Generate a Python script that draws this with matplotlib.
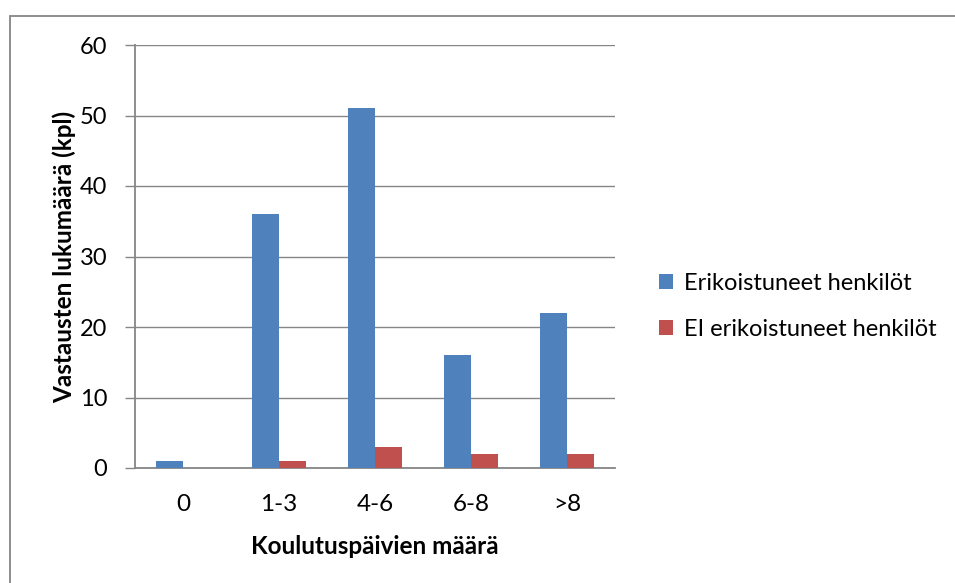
import matplotlib.pyplot as plt
import numpy as np
from matplotlib.patches import Rectangle

plt.rcParams['font.family'] = ['Lato', 'DejaVu Sans']

categories = ["0", "1-3", "4-6", "6-8", ">8"]
erikoistuneet = [1, 36, 51, 16, 22]
ei_erikoistuneet = [0, 1, 3, 2, 2]

blue = "#4F81BD"
red = "#C0504D"
grid = "#868686"

fig = plt.figure(figsize=(9.55, 5.83), dpi=100)
ax = fig.add_axes([135/955, 1 - 468/583, 480/955, 423/583])

x = np.arange(len(categories))
w = 0.28
ax.bar(x - w/2, erikoistuneet, w, color=blue, label="Erikoistuneet henkilöt", zorder=3)
ax.bar(x + w/2, ei_erikoistuneet, w, color=red, label="EI erikoistuneet henkilöt", zorder=3)

ax.set_xlim(-0.5, len(categories) - 0.5)
ax.set_ylim(0, 60)
ax.set_yticks(range(0, 61, 10))
ax.set_xticks(x)
ax.set_xticklabels(categories)
ax.yaxis.grid(True, color=grid, linewidth=1.0, zorder=0)
for s in ["top", "right"]:
    ax.spines[s].set_visible(False)
for s in ["left", "bottom"]:
    ax.spines[s].set_color(grid)
    ax.spines[s].set_linewidth(1.3)
ax.tick_params(axis="y", length=7, color=grid, width=1.0, labelsize=17, pad=13)
ax.tick_params(axis="x", length=0, labelsize=17.5, pad=19)

ax.set_ylabel("Vastausten lukumäärä (kpl)", fontsize=17.5, fontweight="bold")
ax.yaxis.set_label_coords((76 - 135) / 480, 0.5)
ax.set_xlabel("Koulutuspäivien määrä", fontsize=17.5, fontweight="bold")
ax.xaxis.set_label_coords(0.5, (48 - 115) / 423)

fig.legend(loc="upper left", bbox_to_anchor=(638/955, 1 - 252/583), frameon=False,
           fontsize=17, handlelength=0.6, handleheight=0.6, handletextpad=0.45,
           labelspacing=1.05)

# outer chart border: only left and top edges fall inside the image
fig.patches.append(Rectangle((10/955, -0.2), 1.2, 1.2 + (583 - 16)/583 - 1 + 0.0,
                             transform=fig.transFigure, fill=False,
                             edgecolor=grid, linewidth=1.3))

fig.savefig("out.png", dpi=100)
